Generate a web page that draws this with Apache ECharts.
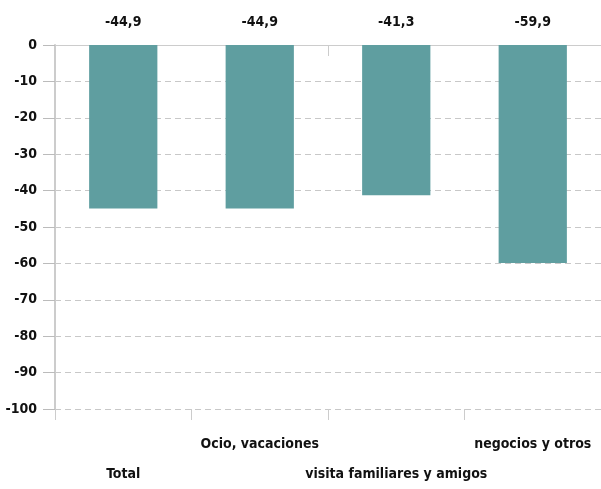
<!DOCTYPE html>
<html><head><meta charset="utf-8">
<script src="https://cdn.jsdelivr.net/npm/echarts@6/dist/echarts.min.js"></script>
<style>html,body{margin:0;padding:0;background:#fff}#c{width:601px;height:489px}</style>
</head><body><div id="c"></div>
<script>
const categories = ['Total', 'Ocio, vacaciones', 'visita familiares y amigos', 'negocios y otros'];
const values = [-44.9, -44.9, -41.3, -59.9];
const yTicks = { min: -100, max: 0, interval: 10 };

const FONT = '"DejaVu Sans Condensed", "Liberation Sans Narrow", sans-serif';
const FS = 14;
const chart = echarts.init(document.getElementById('c'), null, { renderer: 'canvas' });
chart.setOption({
  animation: false,
  grid: { left: 55, right: -2, top: 45, bottom: 75, containLabel: false },
  xAxis: [{
    type: 'category', data: categories, position: 'bottom',
    axisLine: { show: false, onZero: false },
    axisTick: { show: true, length: 11, lineStyle: { color: '#ccc' } },
    axisLabel: {
      interval: 0, margin: 20, color: '#111', fontFamily: FONT, fontWeight: 'bold', fontSize: FS, lineHeight: 30,
      formatter: (v, i) => (i % 2 === 0 ? '\n' + v : v)
    },
    splitLine: { show: false }
  }, {
    type: 'category', data: categories, position: 'top',
    axisLine: { show: true, onZero: false, lineStyle: { color: '#ccc', width: 1 } },
    axisTick: { show: true, inside: true, length: 11, lineStyle: { color: '#ccc' } },
    axisLabel: { show: false }
  }],
  yAxis: {
    type: 'value', min: yTicks.min, max: yTicks.max, interval: yTicks.interval,
    axisLine: { show: true, lineStyle: { color: '#ccc', width: 2 } },
    axisTick: { show: true, length: 12, lineStyle: { color: '#bbb' } },
    axisLabel: { margin: 18, color: '#111', fontFamily: FONT, fontWeight: 'bold', fontSize: FS,
      formatter: v => String(v) },
    splitLine: { show: true, lineStyle: { color: '#c8c8c8', type: [6, 4], width: 1 } }
  },
  series: [{
    type: 'bar', data: values, barWidth: '50%', xAxisIndex: 0,
    itemStyle: { color: '#5f9ea0' },
    label: {
      show: true, position: 'top', distance: 16, color: '#111', fontFamily: FONT, fontWeight: 'bold', fontSize: FS,
      formatter: p => String(p.value).replace('.', ',')
    }
  }]
});
</script></body></html>
